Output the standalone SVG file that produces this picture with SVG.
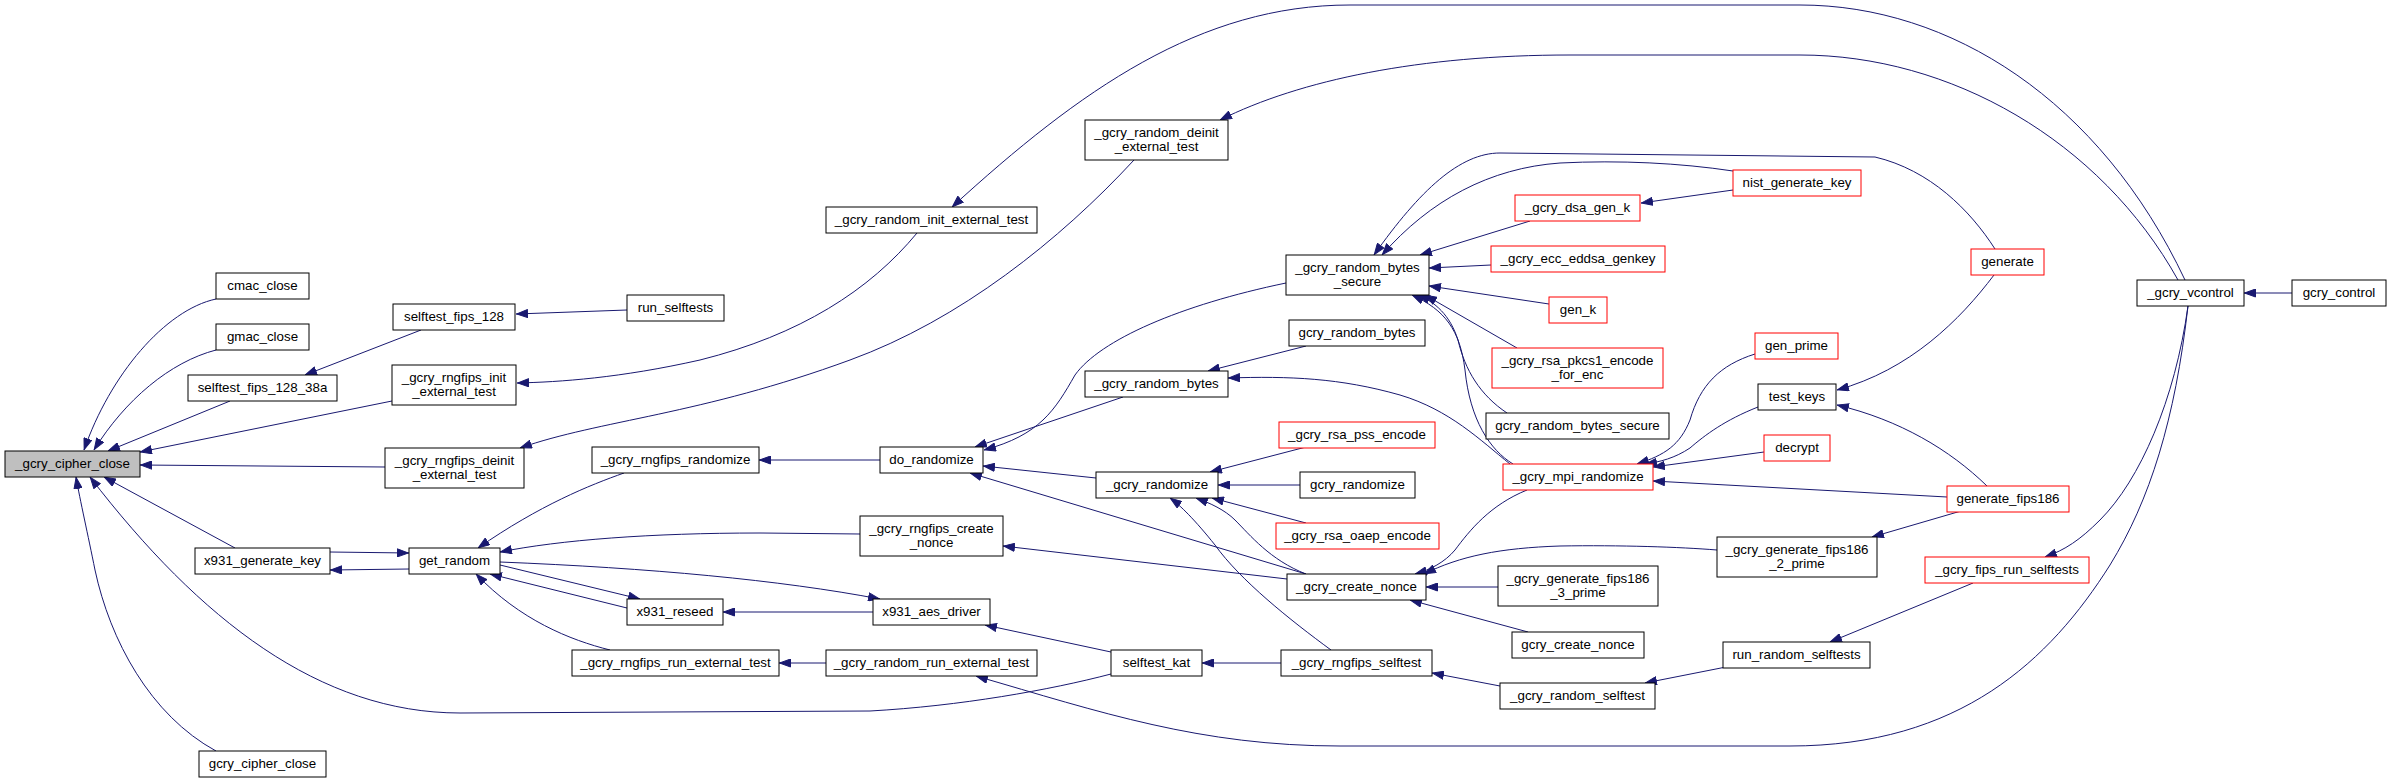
<svg xmlns="http://www.w3.org/2000/svg" width="2391" height="783" viewBox="0 0 2391 783">
<style>
.node rect{fill:#ffffff;stroke:#000000;stroke-width:1}
.node.red rect{stroke:#ff0000}
.node.root rect{fill:#bfbfbf}
.node text{font-family:"Liberation Sans",Arial,Helvetica,sans-serif;font-size:13.33px;text-anchor:middle;fill:#000000}
.edges path{fill:none;stroke:#191970;stroke-width:1;marker-end:url(#arr)}
</style>
<defs>
<marker id="arr" markerWidth="12" markerHeight="9" refX="12" refY="4.5" orient="auto" markerUnits="userSpaceOnUse">
<path d="M0.5,0.5 L11.5,4.5 L0.5,8.5 z" fill="#191970" stroke="#191970" stroke-width="1"/>
</marker>
</defs>
<rect x="0" y="0" width="2391" height="783" fill="#ffffff"/>
<g id="connectors" class="edges">
<path d="M216,299 C165,310 110,375 84,450"/>
<path d="M216,350 C170,362 125,400 94,450"/>
<path d="M230,401 L108,451"/>
<path d="M392,401 L140,452"/>
<path d="M385,467 L140,465"/>
<path d="M235,548 L104,477"/>
<path d="M216,751 C150,715 110,640 95,570 C88,535 80,500 76,477"/>
<path d="M1111,674 C1050,690 960,706 870,711 L460,713 C320,713 200,620 90,477"/>
<path d="M421,330 L305,375"/>
<path d="M627,310 L516,314"/>
<path d="M917,233 C870,290 800,335 700,360 C620,378 560,382 517,383"/>
<path d="M1134,160 C1060,240 960,320 850,360 C700,415 600,420 520,448"/>
<path d="M330,552 L409,553"/>
<path d="M409,569 L330,570"/>
<path d="M624,473 C590,485 540,505 478,548"/>
<path d="M860,534 L760,533 C650,533 560,540 500,552"/>
<path d="M500,562 C650,568 780,580 880,599"/>
<path d="M500,565 L640,599"/>
<path d="M627,608 L490,574"/>
<path d="M610,650 C570,640 520,620 476,574"/>
<path d="M873,612 L723,612"/>
<path d="M880,460 L759,460"/>
<path d="M826,663 L779,663"/>
<path d="M2188,306 C2175,420 2150,500 2110,565 C2050,660 1960,746 1790,746 L1340,746 C1200,746 1100,712 976,676"/>
<path d="M2185,280 C2100,100 1950,5 1800,5 L1350,5 C1200,5 1080,90 952,207"/>
<path d="M2178,280 C2100,140 1950,55 1800,55 L1570,55 C1420,55 1300,80 1220,120"/>
<path d="M1111,652 L985,625"/>
<path d="M1123,397 L975,447"/>
<path d="M1286,283 C1180,305 1100,340 1075,375 C1055,410 1040,435 984,450"/>
<path d="M1096,478 L983,466"/>
<path d="M1306,574 L970,473"/>
<path d="M1287,579 L1003,546"/>
<path d="M1306,346 L1208,371"/>
<path d="M1510,464 C1480,440 1450,410 1400,395 C1340,378 1290,376 1228,378"/>
<path d="M1306,447 L1210,472"/>
<path d="M1300,485 L1218,485"/>
<path d="M1306,523 L1212,498"/>
<path d="M1306,574 C1270,560 1250,535 1235,520 C1225,510 1210,503 1196,498"/>
<path d="M1331,650 C1290,620 1240,580 1215,545 C1195,520 1180,505 1170,498"/>
<path d="M1281,663 L1202,663"/>
<path d="M1500,686 L1432,673"/>
<path d="M1528,632 L1410,600"/>
<path d="M1498,587 L1426,587"/>
<path d="M1527,490 C1490,505 1470,530 1455,550 C1445,562 1430,570 1415,574"/>
<path d="M1717,550 C1680,547 1620,545 1560,546 C1500,548 1460,556 1424,574"/>
<path d="M1530,221 L1420,255"/>
<path d="M1491,265 L1429,268"/>
<path d="M1549,304 L1429,286"/>
<path d="M1517,348 L1425,295"/>
<path d="M1507,413 C1480,395 1465,370 1458,340 C1450,315 1435,302 1418,295"/>
<path d="M1513,464 C1490,450 1470,420 1465,370 C1460,330 1445,310 1412,295"/>
<path d="M1733,171 C1680,163 1620,160 1560,163 C1490,168 1430,200 1382,255"/>
<path d="M1995,249 C1970,210 1930,170 1875,157 L1500,153 C1460,153 1420,190 1374,255"/>
<path d="M1733,190 L1641,203"/>
<path d="M1755,354 C1720,365 1700,385 1690,420 C1680,445 1665,455 1637,464"/>
<path d="M1758,407 C1725,420 1705,435 1690,448 C1675,458 1660,462 1645,464"/>
<path d="M1764,452 L1653,467"/>
<path d="M1947,497 L1653,481"/>
<path d="M1994,275 C1960,320 1910,370 1837,390"/>
<path d="M1987,486 C1950,450 1900,420 1837,405"/>
<path d="M1961,511 L1872,537"/>
<path d="M2292,293 L2244,293"/>
<path d="M2188,306 C2175,400 2140,480 2100,520 C2080,540 2065,550 2045,557"/>
<path d="M1973,583 L1830,642"/>
<path d="M1726,667 L1645,683"/>
</g>
<g id="n0" class="node root"><rect x="5" y="451" width="135" height="26"/><text x="72.5" y="468">_gcry_cipher_close</text></g>
<g id="n1" class="node"><rect x="216" y="273" width="93" height="26"/><text x="262.5" y="290">cmac_close</text></g>
<g id="n2" class="node"><rect x="216" y="324" width="93" height="26"/><text x="262.5" y="341">gmac_close</text></g>
<g id="n3" class="node"><rect x="188" y="375" width="149" height="26"/><text x="262.5" y="392">selftest_fips_128_38a</text></g>
<g id="n4" class="node"><rect x="195" y="548" width="135" height="26"/><text x="262.5" y="565">x931_generate_key</text></g>
<g id="n5" class="node"><rect x="199" y="751" width="127" height="26"/><text x="262.5" y="768">gcry_cipher_close</text></g>
<g id="n6" class="node"><rect x="393" y="304" width="122" height="26"/><text x="454" y="321">selftest_fips_128</text></g>
<g id="n7" class="node"><rect x="392" y="365" width="124" height="40"/><text x="454" y="381.5">_gcry_rngfips_init</text><text x="454" y="396">_external_test</text></g>
<g id="n8" class="node"><rect x="385" y="448" width="139" height="40"/><text x="454.5" y="464.5">_gcry_rngfips_deinit</text><text x="454.5" y="479">_external_test</text></g>
<g id="n9" class="node"><rect x="409" y="548" width="91" height="26"/><text x="454.5" y="565">get_random</text></g>
<g id="n10" class="node"><rect x="627" y="295" width="97" height="26"/><text x="675.5" y="312">run_selftests</text></g>
<g id="n11" class="node"><rect x="826" y="207" width="211" height="26"/><text x="931.5" y="224">_gcry_random_init_external_test</text></g>
<g id="n12" class="node"><rect x="592" y="447" width="167" height="26"/><text x="675.5" y="464">_gcry_rngfips_randomize</text></g>
<g id="n13" class="node"><rect x="627" y="599" width="96" height="26"/><text x="675" y="616">x931_reseed</text></g>
<g id="n14" class="node"><rect x="572" y="650" width="207" height="26"/><text x="675.5" y="667">_gcry_rngfips_run_external_test</text></g>
<g id="n15" class="node"><rect x="1085" y="120" width="143" height="40"/><text x="1156.5" y="136.5">_gcry_random_deinit</text><text x="1156.5" y="151">_external_test</text></g>
<g id="n16" class="node"><rect x="880" y="447" width="103" height="26"/><text x="931.5" y="464">do_randomize</text></g>
<g id="n17" class="node"><rect x="860" y="516" width="143" height="40"/><text x="931.5" y="532.5">_gcry_rngfips_create</text><text x="931.5" y="547">_nonce</text></g>
<g id="n18" class="node"><rect x="873" y="599" width="117" height="26"/><text x="931.5" y="616">x931_aes_driver</text></g>
<g id="n19" class="node"><rect x="826" y="650" width="211" height="26"/><text x="931.5" y="667">_gcry_random_run_external_test</text></g>
<g id="n20" class="node"><rect x="1085" y="371" width="143" height="26"/><text x="1156.5" y="388">_gcry_random_bytes</text></g>
<g id="n21" class="node"><rect x="1096" y="472" width="122" height="26"/><text x="1157" y="489">_gcry_randomize</text></g>
<g id="n22" class="node"><rect x="1111" y="650" width="91" height="26"/><text x="1156.5" y="667">selftest_kat</text></g>
<g id="n23" class="node"><rect x="1286" y="255" width="143" height="40"/><text x="1357.5" y="271.5">_gcry_random_bytes</text><text x="1357.5" y="286">_secure</text></g>
<g id="n24" class="node"><rect x="1289" y="320" width="136" height="26"/><text x="1357" y="337">gcry_random_bytes</text></g>
<g id="n25" class="node red"><rect x="1279" y="422" width="156" height="26"/><text x="1357" y="439">_gcry_rsa_pss_encode</text></g>
<g id="n26" class="node"><rect x="1300" y="472" width="115" height="26"/><text x="1357.5" y="489">gcry_randomize</text></g>
<g id="n27" class="node red"><rect x="1276" y="523" width="163" height="26"/><text x="1357.5" y="540">_gcry_rsa_oaep_encode</text></g>
<g id="n28" class="node"><rect x="1287" y="574" width="139" height="26"/><text x="1356.5" y="591">_gcry_create_nonce</text></g>
<g id="n29" class="node"><rect x="1281" y="650" width="151" height="26"/><text x="1356.5" y="667">_gcry_rngfips_selftest</text></g>
<g id="n30" class="node red"><rect x="1515" y="195" width="125" height="26"/><text x="1577.5" y="212">_gcry_dsa_gen_k</text></g>
<g id="n31" class="node red"><rect x="1491" y="246" width="174" height="26"/><text x="1578" y="263">_gcry_ecc_eddsa_genkey</text></g>
<g id="n32" class="node red"><rect x="1549" y="297" width="58" height="26"/><text x="1578" y="314">gen_k</text></g>
<g id="n33" class="node red"><rect x="1492" y="348" width="171" height="40"/><text x="1577.5" y="364.5">_gcry_rsa_pkcs1_encode</text><text x="1577.5" y="379">_for_enc</text></g>
<g id="n34" class="node"><rect x="1486" y="413" width="183" height="26"/><text x="1577.5" y="430">gcry_random_bytes_secure</text></g>
<g id="n35" class="node red"><rect x="1503" y="464" width="150" height="26"/><text x="1578" y="481">_gcry_mpi_randomize</text></g>
<g id="n36" class="node"><rect x="1498" y="566" width="160" height="40"/><text x="1578" y="582.5">_gcry_generate_fips186</text><text x="1578" y="597">_3_prime</text></g>
<g id="n37" class="node"><rect x="1512" y="632" width="132" height="26"/><text x="1578" y="649">gcry_create_nonce</text></g>
<g id="n38" class="node"><rect x="1500" y="683" width="155" height="26"/><text x="1577.5" y="700">_gcry_random_selftest</text></g>
<g id="n39" class="node red"><rect x="1733" y="170" width="128" height="26"/><text x="1797" y="187">nist_generate_key</text></g>
<g id="n40" class="node red"><rect x="1755" y="333" width="83" height="26"/><text x="1796.5" y="350">gen_prime</text></g>
<g id="n41" class="node"><rect x="1758" y="384" width="78" height="26"/><text x="1797" y="401">test_keys</text></g>
<g id="n42" class="node red"><rect x="1764" y="435" width="66" height="26"/><text x="1797" y="452">decrypt</text></g>
<g id="n43" class="node"><rect x="1717" y="537" width="160" height="40"/><text x="1797" y="553.5">_gcry_generate_fips186</text><text x="1797" y="568">_2_prime</text></g>
<g id="n44" class="node"><rect x="1723" y="642" width="147" height="26"/><text x="1796.5" y="659">run_random_selftests</text></g>
<g id="n45" class="node red"><rect x="1971" y="249" width="73" height="26"/><text x="2007.5" y="266">generate</text></g>
<g id="n46" class="node red"><rect x="1947" y="486" width="122" height="26"/><text x="2008" y="503">generate_fips186</text></g>
<g id="n47" class="node red"><rect x="1925" y="557" width="164" height="26"/><text x="2007" y="574">_gcry_fips_run_selftests</text></g>
<g id="n48" class="node"><rect x="2137" y="280" width="107" height="26"/><text x="2190.5" y="297">_gcry_vcontrol</text></g>
<g id="n49" class="node"><rect x="2292" y="280" width="94" height="26"/><text x="2339" y="297">gcry_control</text></g>
</svg>
